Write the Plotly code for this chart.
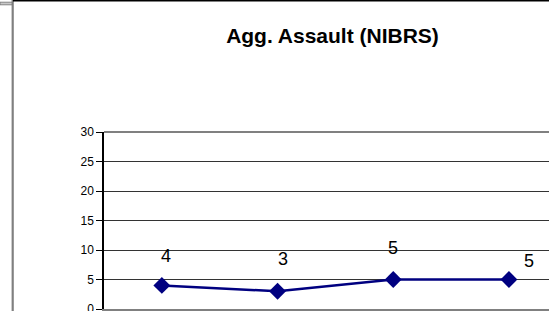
import plotly.graph_objects as go

# ---- data ----
period_index = [0, 1, 2, 3]
assault_counts = [4, 3, 5, 5]
y_ticks = [0, 5, 10, 15, 20, 25, 30]
title_text = "Agg. Assault (NIBRS)"

# label offsets (pixels) relative to the data point, as in the source
label_xshift = [4, 5, 0, 20]
label_yshift = [29, 32, 32, 19]

W, H = 549, 311
ML, MR, MT, MB = 104, 0, 132, 2
PW, PH = W - ML - MR, H - MT - MB

def px_x(px):
    return (px - ML) / PW

def px_y(py):
    return (H - MB - py) / PH

NAVY = "#000080"
FONT = "Liberation Sans, Arial, sans-serif"

fig = go.Figure()
fig.add_trace(go.Scatter(
    x=period_index, y=assault_counts, mode="lines+markers",
    line=dict(color=NAVY, width=2.5),
    marker=dict(symbol="diamond", size=13, color=NAVY),
    cliponaxis=False, showlegend=False, hoverinfo="skip",
))

for i, v in enumerate(assault_counts):
    fig.add_annotation(
        x=period_index[i], y=v, text=str(v), showarrow=False,
        xshift=label_xshift[i], yshift=label_yshift[i],
        font=dict(family=FONT, size=18, color="#000000"),
        xanchor="center", yanchor="middle",
    )

fig.update_layout(
    width=W, height=H,
    margin=dict(l=ML, r=MR, t=MT, b=MB, autoexpand=False),
    paper_bgcolor="white", plot_bgcolor="white",
    title=dict(
        text="<b>" + title_text + "</b>",
        x=332.5 / W, xanchor="center", xref="container",
        y=1 - 36 / H, yanchor="middle", yref="container",
        font=dict(family=FONT, size=21, color="#000000"),
    ),
    xaxis=dict(
        range=[-0.5, -0.5 + PW / 115.7],
        tickvals=[-0.5, 0.5, 1.5, 2.5, 3.5],
        showticklabels=False, ticks="outside", ticklen=5,
        tickcolor="#000000", showgrid=False, zeroline=False,
        showline=True, linecolor="#808080", linewidth=1.5,
        automargin=False,
    ),
    yaxis=dict(
        range=[0, 30], tickvals=y_ticks,
        ticks="outside", ticklen=6, tickcolor="#000000",
        tickfont=dict(family=FONT, size=12, color="#000000"),
        ticklabeloverflow="allow",
        showgrid=True, gridcolor="#333333", gridwidth=1,
        zeroline=False, showline=True, linecolor="#000000", linewidth=1.5,
        automargin=False,
    ),
    font=dict(family=FONT),
)

# plot area top border (gray)
fig.add_shape(type="line", xref="paper", yref="paper",
              x0=0, x1=1, y0=1, y1=1,
              line=dict(color="#808080", width=2))
# outer chart frame: left gray border, top black border
fig.add_shape(type="line", xref="paper", yref="paper",
              x0=px_x(12.7), x1=px_x(12.7), y0=px_y(0), y1=px_y(H),
              line=dict(color="#808080", width=2.2))
fig.add_shape(type="line", xref="paper", yref="paper",
              x0=px_x(13), x1=px_x(W), y0=px_y(0.8), y1=px_y(0.8),
              line=dict(color="#000000", width=1.6))
# small gray tab at the top-left
fig.add_shape(type="rect", xref="paper", yref="paper",
              x0=px_x(0), x1=px_x(12), y0=px_y(2.2), y1=px_y(4.8),
              fillcolor="#c8c8c8", line=dict(color="#707070", width=0.8))

fig.write_html("out.html", config={"displayModeBar": False},
               post_script="document.body.style.margin='0';")
